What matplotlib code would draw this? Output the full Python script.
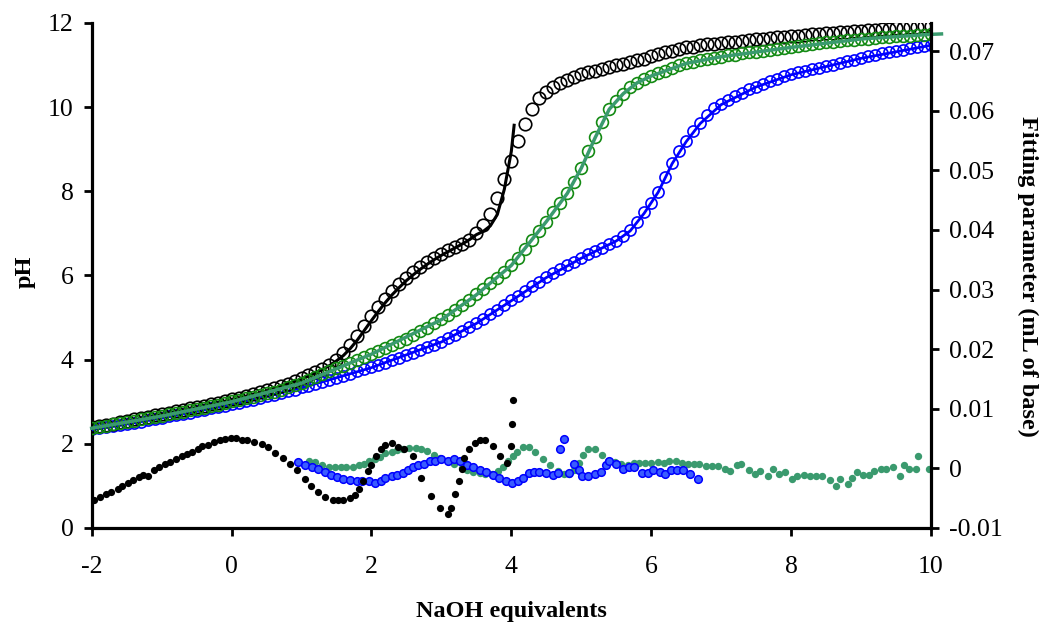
import numpy as np
import matplotlib
matplotlib.use("Agg")
import matplotlib.pyplot as plt
from matplotlib.ticker import FuncFormatter

plt.rcParams['font.family'] = ['Liberation Serif', 'DejaVu Serif']
plt.rcParams['axes.unicode_minus'] = False

# titration grid (NaOH equivalents), one point every 0.1
eq = np.round(np.arange(-2.0, 10.01, 0.1), 2)

ph_black = [2.40, 2.42, 2.45, 2.48, 2.51, 2.54, 2.58, 2.61, 2.64, 2.68,
            2.71, 2.74, 2.77, 2.80, 2.84, 2.87, 2.91, 2.94, 2.98, 3.02,
            3.06, 3.10, 3.14, 3.18, 3.23, 3.27, 3.32, 3.38, 3.43, 3.49,
            3.56, 3.63, 3.70, 3.78, 3.88, 4.00, 4.16, 4.35, 4.56, 4.80,
            5.03, 5.25, 5.45, 5.63, 5.80, 5.95, 6.08, 6.20, 6.32, 6.42,
            6.52, 6.60, 6.67, 6.75, 6.85, 7.00, 7.20, 7.45, 7.85, 8.30,
            8.72, 9.20, 9.60, 9.95, 10.22, 10.36, 10.48, 10.57, 10.65, 10.72,
            10.78, 10.83, 10.87, 10.91, 10.95, 10.99, 11.03, 11.07, 11.11, 11.15,
            11.22, 11.26, 11.30, 11.34, 11.38, 11.42, 11.44, 11.47, 11.49, 11.51,
            11.53, 11.55, 11.56, 11.58, 11.59, 11.61, 11.63, 11.64, 11.66, 11.67,
            11.69, 11.70, 11.72, 11.73, 11.74, 11.76, 11.77, 11.78, 11.79, 11.80,
            11.82, 11.83, 11.84, 11.85, 11.86, 11.88, 11.89, 11.90, 11.91, 11.92,
            11.93]

ph_green = [2.38, 2.41, 2.43, 2.46, 2.49, 2.52, 2.55, 2.58, 2.61, 2.64,
            2.67, 2.70, 2.73, 2.76, 2.80, 2.83, 2.86, 2.90, 2.93, 2.97,
            3.01, 3.04, 3.08, 3.12, 3.16, 3.20, 3.24, 3.29, 3.34, 3.39,
            3.45, 3.51, 3.58, 3.65, 3.72, 3.79, 3.86, 3.93, 4.00, 4.07,
            4.14, 4.21, 4.28, 4.35, 4.42, 4.50, 4.58, 4.67, 4.76, 4.86,
            4.96, 5.07, 5.18, 5.30, 5.42, 5.55, 5.68, 5.81, 5.94, 6.08,
            6.24, 6.42, 6.62, 6.84, 7.06, 7.28, 7.50, 7.72, 7.95, 8.22,
            8.55, 8.95, 9.28, 9.65, 9.95, 10.14, 10.32, 10.47, 10.58, 10.67,
            10.74, 10.81, 10.87, 10.93, 10.99, 11.04, 11.08, 11.11, 11.14, 11.17,
            11.20, 11.23, 11.25, 11.28, 11.30, 11.32, 11.34, 11.36, 11.38, 11.40,
            11.42, 11.45, 11.47, 11.50, 11.52, 11.54, 11.56, 11.57, 11.59, 11.60,
            11.62, 11.63, 11.64, 11.66, 11.67, 11.68, 11.69, 11.70, 11.71, 11.72,
            11.73]

ph_blue = [2.35, 2.37, 2.40, 2.42, 2.45, 2.48, 2.50, 2.53, 2.56, 2.59,
           2.62, 2.65, 2.68, 2.71, 2.74, 2.77, 2.80, 2.84, 2.87, 2.91,
           2.94, 2.98, 3.01, 3.05, 3.09, 3.13, 3.17, 3.21, 3.25, 3.29,
           3.34, 3.38, 3.43, 3.47, 3.52, 3.57, 3.62, 3.67, 3.72, 3.77,
           3.82, 3.87, 3.92, 3.98, 4.04, 4.10, 4.16, 4.22, 4.29, 4.36,
           4.43, 4.51, 4.59, 4.68, 4.77, 4.87, 4.97, 5.08, 5.19, 5.30,
           5.41, 5.52, 5.63, 5.74, 5.85, 5.96, 6.06, 6.15, 6.24, 6.33,
           6.42, 6.50, 6.58, 6.66, 6.74, 6.83, 6.94, 7.08, 7.28, 7.50,
           7.72, 7.98, 8.35, 8.68, 8.95, 9.20, 9.43, 9.63, 9.82, 9.97,
           10.08, 10.17, 10.26, 10.34, 10.42, 10.49, 10.55, 10.61, 10.67, 10.73,
           10.78, 10.83, 10.87, 10.91, 10.94, 10.98, 11.01, 11.05, 11.09, 11.13,
           11.17, 11.21, 11.25, 11.28, 11.31, 11.34, 11.37, 11.40, 11.43, 11.46,
           11.48]

# fitted curves
fit_black_x = [-2.0, -1.5, -1.0, -0.5, 0.0, 0.5, 1.0, 1.2, 1.4, 1.5, 1.6, 1.7, 1.8,
               1.9, 2.0, 2.1, 2.2, 2.3, 2.4, 2.5, 2.6, 2.7, 2.8, 2.9, 3.0, 3.1,
               3.2, 3.3, 3.4, 3.5, 3.6, 3.7, 3.8, 3.9, 4.0, 4.04]
fit_black_ph = [2.36, 2.52, 2.69, 2.85, 3.04, 3.25, 3.54, 3.68, 3.86, 3.97, 4.10, 4.27, 4.47,
                4.70, 4.93, 5.15, 5.36, 5.55, 5.72, 5.88, 6.02, 6.15, 6.27, 6.38, 6.48, 6.57,
                6.66, 6.75, 6.85, 6.97, 7.05, 7.18, 7.45, 8.05, 8.95, 9.57]
fit_green_x = [-2.0, -1.0, 0.0, 1.0, 2.0, 3.0, 3.5, 4.0, 4.5, 4.8, 5.0, 5.2, 5.4,
               5.6, 5.8, 6.0, 6.5, 7.0, 8.0, 9.0, 10.0, 10.15]
fit_green_ph = [2.37, 2.66, 3.00, 3.44, 4.13, 4.95, 5.54, 6.24, 7.28, 7.95, 8.55, 9.28, 9.95,
                10.32, 10.58, 10.74, 11.04, 11.20, 11.42, 11.62, 11.73, 11.74]
fit_blue_x = [-2.0, -1.0, 0.0, 1.0, 2.0, 3.0, 3.5, 4.0, 4.5, 5.0, 5.5, 5.7, 5.9,
              6.1, 6.3, 6.5, 6.7, 7.0, 7.5, 8.0, 9.0, 10.0]
fit_blue_ph = [2.33, 2.61, 2.93, 3.33, 3.81, 4.42, 4.86, 5.40, 5.95, 6.41, 6.82, 7.06, 7.48,
               7.98, 8.66, 9.18, 9.61, 10.06, 10.48, 10.77, 11.16, 11.47]

# fitting parameter (mL of base), right axis
par_black_x = [-1.96, -1.88, -1.79, -1.72, -1.63, -1.57, -1.48, -1.41, -1.33, -1.26,
               -1.19, -1.11, -1.04, -0.95, -0.88, -0.80, -0.71, -0.64, -0.57, -0.48,
               -0.42, -0.33, -0.25, -0.17, -0.10, -0.01, 0.07, 0.15, 0.22, 0.32,
               0.44, 0.52, 0.62, 0.74, 0.83, 0.93, 1.05, 1.14, 1.24, 1.33,
               1.45, 1.52, 1.59, 1.69, 1.76, 1.82, 1.88, 1.95, 2.00, 2.07,
               2.14, 2.20, 2.29, 2.38, 2.47, 2.59, 2.71, 2.85, 2.98, 3.09,
               3.14, 3.20, 3.25, 3.29, 3.33, 3.40, 3.48, 3.55, 3.63, 3.74,
               3.84, 3.94, 3.99, 4.01, 4.03]
par_black = [-0.0053, -0.0048, -0.0043, -0.0039, -0.0034, -0.0029, -0.0024, -0.0019, -0.0014, -0.0011,
             -0.0012, -0.0003, 0.0002, 0.0007, 0.0010, 0.0016, 0.0021, 0.0024, 0.0027, 0.0033,
             0.0037, 0.0040, 0.0044, 0.0047, 0.0049, 0.0051, 0.0051, 0.0048, 0.0047, 0.0044,
             0.0041, 0.0036, 0.0025, 0.0018, 0.0008, -0.0003, -0.0017, -0.0030, -0.0040, -0.0048,
             -0.0053, -0.0053, -0.0053, -0.0050, -0.0044, -0.0035, -0.0022, -0.0005, 0.0005, 0.0020,
             0.0033, 0.0040, 0.0042, 0.0036, 0.0033, 0.0020, -0.0016, -0.0046, -0.0067, -0.0077,
             -0.0067, -0.0043, -0.0022, -0.0001, 0.0017, 0.0033, 0.0042, 0.0047, 0.0047, 0.0038,
             0.0020, 0.0009, 0.0037, 0.0075, 0.0115]

par_blue_x = [0.95, 1.05, 1.15, 1.24, 1.33, 1.42, 1.51, 1.59, 1.69, 1.79,
              1.87, 1.96, 2.05, 2.13, 2.20, 2.29, 2.37, 2.45, 2.52, 2.59,
              2.67, 2.75, 2.84, 2.91, 3.00, 3.09, 3.18, 3.26, 3.36, 3.45,
              3.55, 3.64, 3.74, 3.83, 3.92, 4.01, 4.09, 4.17, 4.25, 4.32,
              4.40, 4.50, 4.59, 4.67, 4.70, 4.75, 4.83, 4.90, 4.97, 5.01,
              5.10, 5.19, 5.28, 5.35, 5.40, 5.49, 5.60, 5.68, 5.76, 5.87,
              5.95, 6.03, 6.12, 6.20, 6.28, 6.37, 6.46, 6.55, 6.67]
par_blue = [0.0010, 0.0005, 0.0002, -0.0001, -0.0006, -0.0011, -0.0014, -0.0017, -0.0019, -0.0022,
            -0.0022, -0.0022, -0.0025, -0.0022, -0.0016, -0.0013, -0.0011, -0.0008, -0.0003, 0.0002,
            0.0005, 0.0008, 0.0012, 0.0012, 0.0016, 0.0013, 0.0016, 0.0013, 0.0005, 0.0003,
            -0.0003, -0.0006, -0.0011, -0.0016, -0.0022, -0.0025, -0.0021, -0.0016, -0.0008, -0.0006,
            -0.0006, -0.0008, -0.0011, -0.0007, 0.0033, 0.0049, -0.0008, 0.0007, -0.0003, -0.0012,
            -0.0012, -0.0009, -0.0006, 0.0005, 0.0012, 0.0007, -0.0001, 0.0002, 0.0002, -0.0008,
            -0.0008, -0.0003, -0.0006, -0.0009, -0.0003, -0.0003, -0.0003, -0.0009, -0.0017]

par_green_x = [1.11, 1.19, 1.30, 1.39, 1.48, 1.56, 1.64, 1.73, 1.82, 1.89,
               1.97, 2.05, 2.12, 2.20, 2.29, 2.37, 2.45, 2.54, 2.63, 2.71,
               2.80, 2.89, 2.98, 3.09, 3.18, 3.29, 3.37, 3.45, 3.55, 3.63,
               3.73, 3.81, 3.88, 3.95, 4.02, 4.08, 4.17, 4.25, 4.34, 4.45,
               4.56, 4.67, 4.75, 4.83, 4.90, 4.97, 5.03, 5.09, 5.19, 5.30,
               5.38, 5.48, 5.57, 5.67, 5.75, 5.83, 5.91, 6.00, 6.09, 6.18,
               6.26, 6.35, 6.44, 6.53, 6.61, 6.69, 6.79, 6.87, 6.95, 7.05,
               7.13, 7.22, 7.29, 7.40, 7.48, 7.56, 7.67, 7.74, 7.82, 7.91,
               8.02, 8.09, 8.18, 8.27, 8.36, 8.44, 8.55, 8.64, 8.70, 8.81,
               8.87, 8.94, 9.03, 9.12, 9.18, 9.28, 9.36, 9.45, 9.56, 9.61,
               9.69, 9.79, 9.82, 9.97]
par_green = [0.0013, 0.0010, 0.0006, 0.0003, 0.0002, 0.0002, 0.0002, 0.0002, 0.0005, 0.0008,
             0.0013, 0.0015, 0.0019, 0.0025, 0.0028, 0.0030, 0.0033, 0.0034, 0.0034, 0.0033,
             0.0029, 0.0023, 0.0017, 0.0013, 0.0008, 0.0001, -0.0003, -0.0006, -0.0008, -0.0009,
             -0.0009, -0.0005, 0.0002, 0.0012, 0.0020, 0.0028, 0.0036, 0.0036, 0.0028, 0.0015,
             0.0005, -0.0005, -0.0009, -0.0009, -0.0003, 0.0009, 0.0023, 0.0033, 0.0033, 0.0023,
             0.0012, 0.0010, 0.0007, 0.0006, 0.0009, 0.0009, 0.0009, 0.0009, 0.0011, 0.0009,
             0.0012, 0.0012, 0.0009, 0.0007, 0.0007, 0.0007, 0.0004, 0.0004, 0.0004, -0.0001,
             -0.0004, 0.0005, 0.0007, -0.0003, -0.0009, -0.0004, -0.0012, -0.0001, -0.0009, -0.0006,
             -0.0017, -0.0012, -0.0011, -0.0013, -0.0013, -0.0013, -0.0019, -0.0029, -0.0017, -0.0027,
             -0.0016, -0.0006, -0.0011, -0.0011, -0.0004, -0.0001, -0.0001, 0.0002, -0.0013, 0.0006,
             -0.0001, -0.0001, 0.0020, -0.0001]

GREEN = '#138a13'
SEA = '#3a9a6e'

fig = plt.figure(figsize=(10.43, 6.23), dpi=100)
ax = fig.add_axes([0.0879, 0.1525, 0.8047, 0.8106])

# pH data (open circles) and fits
ax.plot(eq, ph_blue, 'o', mfc='none', mec='#0000ff', ms=8, mew=1.2, zorder=2)
ax.plot(fit_blue_x, fit_blue_ph, '-', color='#0000ff', lw=2, zorder=3)
ax.plot(eq, ph_black, 'o', mfc='none', mec='black', ms=9, mew=1.2, zorder=4)
ax.plot(fit_black_x, fit_black_ph, '-', color='black', lw=2.2, zorder=5)
ax.plot(eq, ph_green, 'o', mfc='none', mec=GREEN, ms=8.5, mew=1.2, zorder=6)
ax.plot(fit_green_x, fit_green_ph, '-', color=SEA, lw=2.5, zorder=7, clip_on=False)

ax.set_xlim(-2, 10)
ax.set_ylim(0, 12)
ax.set_xticks(range(-2, 11, 2))
ax.set_yticks(range(0, 13, 2))

ax2 = ax.twinx()
ax2.plot(par_green_x, par_green, 'o', color=SEA, ms=5.3, mew=0, clip_on=False, zorder=2)
ax2.plot(par_blue_x, par_blue, 'o', mfc='#3a5cff', mec='#0000ff', ms=5.5, mew=1.1, zorder=3)
ax2.plot(par_black_x, par_black, 'o', color='black', ms=5.2, mew=0, zorder=4)
ax2.set_ylim(-0.01, 0.0747)
ax2.set_yticks([-0.01, 0, 0.01, 0.02, 0.03, 0.04, 0.05, 0.06, 0.07])
ax2.yaxis.set_major_formatter(FuncFormatter(lambda v, _: '0' if abs(v) < 1e-9 else f'{v:.2f}'))

for a in (ax, ax2):
    a.spines['top'].set_visible(False)
    for s in a.spines.values():
        s.set_linewidth(2.3)
ax.spines['right'].set_visible(False)
ax2.spines['left'].set_visible(False)
ax2.spines['bottom'].set_visible(False)

ax.tick_params(axis='y', direction='out', length=6, width=2, labelsize=18.5, pad=7)
ax.tick_params(axis='x', direction='out', length=6, width=2, labelsize=18.5, pad=14)
ax2.tick_params(axis='y', direction='out', length=6, width=2, labelsize=18.5, pad=7)

fig.text(25 / 1043, 1 - 272 / 623, 'pH', rotation=90, fontsize=17.5, fontweight='bold',
         ha='center', va='center')
fig.text(511 / 1043, 1 - 611 / 623, 'NaOH equivalents', fontsize=17.5, fontweight='bold',
         ha='center', va='center')
fig.text(1028 / 1043, 1 - 276 / 623, 'Fitting parameter (mL of base)', rotation=-90,
         fontsize=17.5, fontweight='bold', ha='center', va='center')

fig.savefig('out.png', dpi=100)
